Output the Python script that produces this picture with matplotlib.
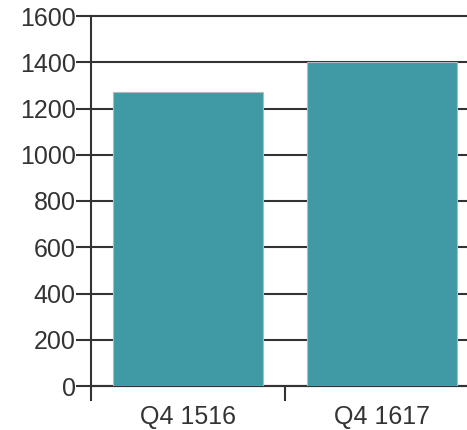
import matplotlib.pyplot as plt
import numpy as np

# data
categories = ['Q4 1516', 'Q4 1617']
values = [1270, 1400]
yticks = [0, 200, 400, 600, 800, 1000, 1200, 1400, 1600]

plt.rcParams['font.family'] = ['Liberation Sans', 'DejaVu Sans']
plt.rcParams['font.size'] = 18

fig = plt.figure(figsize=(4.67, 4.30), dpi=100)
ax = fig.add_axes([91 / 467, 44 / 430, 388 / 467, 370 / 430])

line_col = '#333333'
x = np.arange(len(categories))
ax.bar(x, values, width=0.77, color='#3F9AA5', edgecolor='#b8b8b8', linewidth=0.8, zorder=3)

ax.set_xlim(-0.5, 1.5)
ax.set_ylim(0, 1600)
ax.set_yticks(yticks)
ax.yaxis.grid(True, color=line_col, linewidth=1.5, zorder=0)
ax.set_axisbelow(True)
for gl in ax.get_ygridlines():
    gl.set_clip_on(False)

ax.set_xticks(x)
ax.set_xticklabels(categories, color=line_col)
ax.set_xticks([-0.5, 0.5, 1.5], minor=True)
ax.tick_params(axis='x', which='major', length=0, pad=14)
ax.tick_params(axis='x', which='minor', length=11, width=1.5, color=line_col)
ax.tick_params(axis='y', length=11, width=1.5, color=line_col, labelcolor=line_col, pad=0)

for s in ['top', 'right']:
    ax.spines[s].set_visible(False)
for s in ['left', 'bottom']:
    ax.spines[s].set_color(line_col)
    ax.spines[s].set_linewidth(1.5)

fig.savefig('out.png', dpi=100)
